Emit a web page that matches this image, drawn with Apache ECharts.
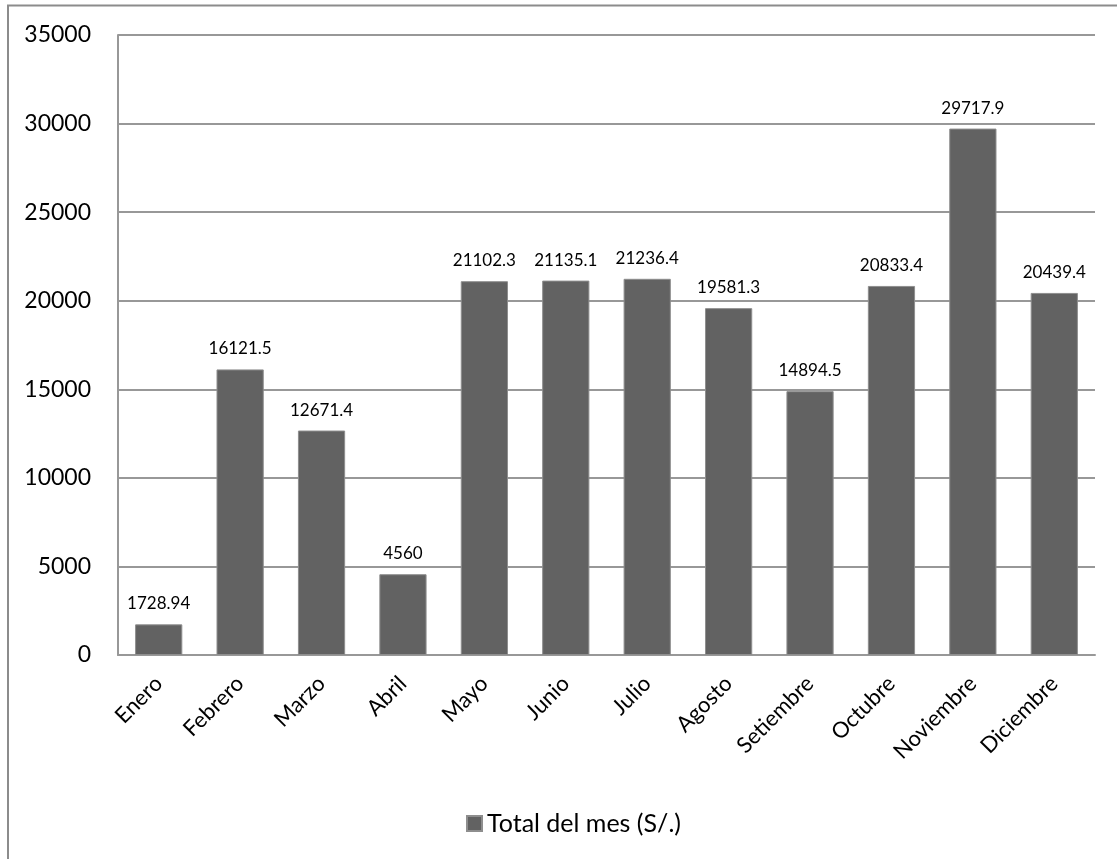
<!DOCTYPE html>
<html>
<head>
<meta charset="utf-8">
<script src="https://cdn.jsdelivr.net/npm/echarts@6/dist/echarts.min.js"></script>
<style>
  html, body { margin: 0; padding: 0; background: #ffffff; }
  #chart { width: 1117px; height: 859px; }
</style>
</head>
<body>
<div id="chart"></div>
<script>
// Monthly totals
const months = ['Enero', 'Febrero', 'Marzo', 'Abril', 'Mayo', 'Junio', 'Julio',
  'Agosto', 'Setiembre', 'Octubre', 'Noviembre', 'Diciembre'];
const totals = [1728.94, 16121.5, 12671.4, 4560, 21102.3, 21135.1, 21236.4,
  19581.3, 14894.5, 20833.4, 29717.9, 20439.4];
const seriesName = 'Total del mes (S/.)';
const yMin = 0;
const yMax = 35000;
const yStep = 5000;

const font = 'Lato, "Open Sans", sans-serif';
const gridGray = '#989898';
const barGray = '#626262';

const chart = echarts.init(document.getElementById('chart'), null, { renderer: 'canvas' });

chart.setOption({
  backgroundColor: '#ffffff',
  animation: false,
  textStyle: { fontFamily: font },
  graphic: [{
    type: 'rect',
    shape: { x: 8, y: 5.5, width: 1300, height: 1000 },
    style: { fill: 'none', stroke: '#8c8c8c', lineWidth: 2 },
    z: -1
  }],
  grid: { left: 118, top: 35, right: 22, bottom: 204, containLabel: false },
  legend: {
    data: [seriesName],
    left: 461,
    top: 806,
    icon: 'rect',
    itemWidth: 15,
    itemHeight: 15,
    itemGap: 6,
    textStyle: { fontSize: 25, color: '#000000', fontFamily: font }
  },
  xAxis: {
    type: 'category',
    data: months,
    axisLine: { show: true, lineStyle: { color: gridGray, width: 2 } },
    axisTick: { show: false },
    axisLabel: {
      rotate: 45,
      margin: 25,
      interval: 0,
      fontSize: 22,
      color: '#000000',
      fontFamily: font
    }
  },
  yAxis: {
    type: 'value',
    min: yMin,
    max: yMax,
    interval: yStep,
    axisLine: { show: true, lineStyle: { color: gridGray, width: 2 } },
    axisTick: { show: false },
    splitLine: { show: true, lineStyle: { color: gridGray, width: 2 } },
    axisLabel: {
      margin: 27,
      fontSize: 23,
      color: '#000000',
      fontFamily: font,
      formatter: v => String(v)
    }
  },
  series: [{
    name: seriesName,
    type: 'bar',
    data: totals,
    barCategoryGap: '42%',
    itemStyle: { color: barGray, borderColor: '#8e8e8e', borderWidth: 1 },
    label: {
      show: true,
      position: 'top',
      distance: 12,
      fontSize: 17,
      color: '#000000',
      fontFamily: font,
      formatter: p => String(p.value)
    }
  }]
});
</script>
</body>
</html>
